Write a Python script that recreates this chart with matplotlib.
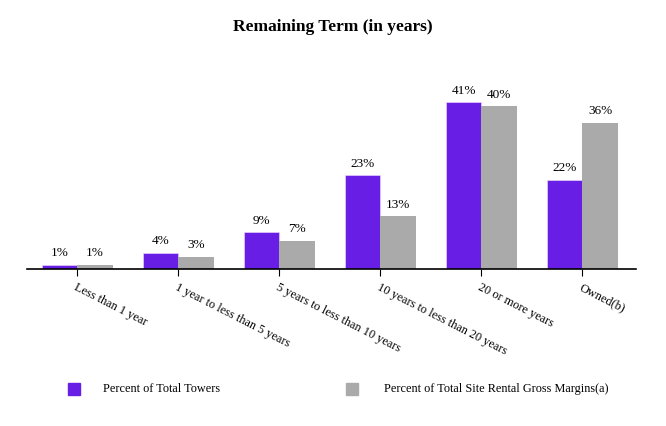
import numpy as np
import matplotlib.pyplot as plt
from matplotlib.patches import Rectangle

# data
categories = ["Less than 1 year", "1 year to less than 5 years", "5 years to less than 10 years",
              "10 years to less than 20 years", "20 or more years", "Owned(b)"]
towers = [1, 4, 9, 23, 41, 22]
margins = [1, 3, 7, 13, 40, 36]
series_names = ["Percent of Total Towers", "Percent of Total Site Rental Gross Margins(a)"]

purple = "#681ee4"
gray = "#aaaaaa"

plt.rcParams['font.family'] = ['Liberation Serif', 'DejaVu Serif']

fig = plt.figure(figsize=(6.66, 4.26), dpi=100)
ax = fig.add_axes([0.0405, 0.3685, 0.9145, 0.49])

x = np.arange(len(categories))
w = 0.35
b1 = ax.bar(x - w / 2, towers, w, color=purple, edgecolor="#f3e0ff", linewidth=0.4)
b2 = ax.bar(x + w / 2, margins, w, color=gray, linewidth=0)

for bars, vals in [(b1, towers), (b2, margins)]:
    for r, v in zip(bars, vals):
        ax.annotate(f"{v}%", (r.get_x() + r.get_width() / 2, r.get_height()),
                    xytext=(0, 4), textcoords="offset points",
                    ha="center", va="bottom", fontsize=9.5)

ax.set_xlim(-0.5, 5.53)
ax.set_ylim(0, 51.3)
ax.set_yticks([])
for s in ["top", "right", "left"]:
    ax.spines[s].set_visible(False)
ax.spines["bottom"].set_linewidth(1.2)
ax.set_xticks(x)
ax.set_xticklabels(categories, rotation=-27, ha="left", va="top",
                   rotation_mode="anchor", fontsize=8.8)
ax.tick_params(axis="x", length=5, width=0.8, pad=4)

fig.text(0.5, 1 - 27 / 426, "Remaining Term (in years)", ha="center", va="center",
         fontsize=12.5, fontweight="bold")

# legend
H = 426
W = 666
for (lx, tx), col, name in zip([(68, 103), (346, 384)], [purple, gray], series_names):
    fig.add_artist(Rectangle((lx / W, 1 - 395 / H), 12 / W, 12 / H,
                             transform=fig.transFigure, color=col))
    fig.text(tx / W, 1 - 389 / H, name, ha="left", va="center", fontsize=8.8)

fig.savefig("out.png", dpi=100)
